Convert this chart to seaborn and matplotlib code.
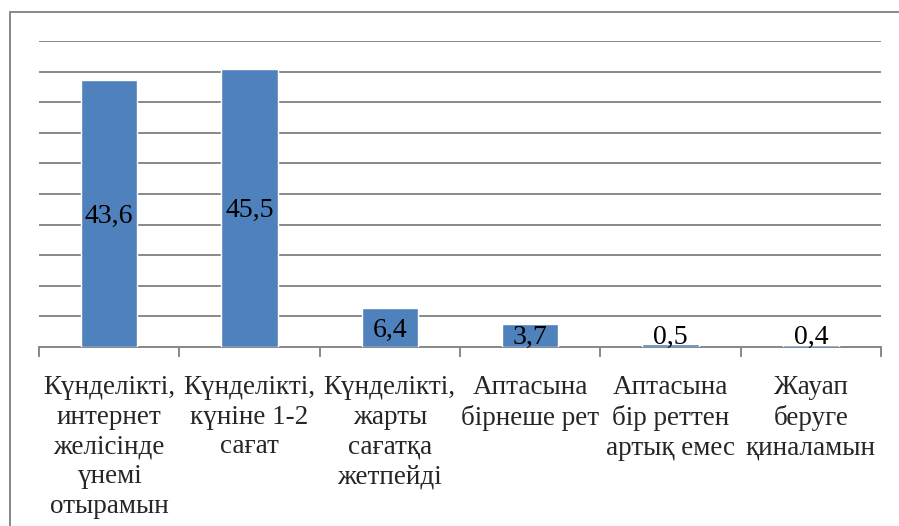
import matplotlib
matplotlib.use("Agg")
import matplotlib.pyplot as plt
import seaborn as sns
import pandas as pd
from matplotlib.patches import Rectangle

categories = [
    "Күнделікті,\nинтернет\nжелісінде\nүнемі\nотырамын",
    "Күнделікті,\nкүніне 1-2\nсағат",
    "Күнделікті,\nжарты\nсағатқа\nжетпейді",
    "Аптасына\nбірнеше рет",
    "Аптасына\nбір реттен\nартық емес",
    "Жауап\nберуге\nқиналамын",
]
values = [43.6, 45.5, 6.4, 3.7, 0.5, 0.4]
value_labels = ["43,6", "45,5", "6,4", "3,7", "0,5", "0,4"]

sns.set_style("white")
plt.rcParams["font.family"] = ["Liberation Serif", "DejaVu Serif"]

df = pd.DataFrame({"cat": categories, "val": values})

fig = plt.figure(figsize=(8.99, 5.26), dpi=100)
ax = fig.add_axes([39 / 899, 1 - 347 / 526, (881 - 39) / 899, (347 - 41) / 526])

sns.barplot(data=df, x="cat", y="val", color="#4F81BD", saturation=1,
            width=0.4, ax=ax, zorder=3)

ax.set_ylim(0, 50)
ax.set_xlim(-0.5, len(categories) - 0.5)
ax.set_yticks(range(0, 55, 5))
ax.set_yticklabels([])
ax.tick_params(axis="y", length=0)
ax.yaxis.grid(True, color="#888888", linewidth=1.4, zorder=0)
ax.set_axisbelow(True)
ax.xaxis.grid(False)
for s in ["top", "right", "left"]:
    ax.spines[s].set_visible(False)
ax.spines["bottom"].set_color("#888888")
ax.spines["bottom"].set_linewidth(1.4)
ax.spines["bottom"].set_zorder(2)

ax.set_xticks(range(len(categories)))
ax.set_xticklabels(categories, fontsize=19.5, linespacing=1.25)
ax.set_xticks([i - 0.5 for i in range(len(categories) + 1)], minor=True)
ax.tick_params(axis="x", which="major", bottom=True, length=0, pad=20)
ax.tick_params(axis="x", which="minor", bottom=True, length=7, color="#888888",
               width=1.4, direction="out")
ax.set_xlabel("")
ax.set_ylabel("")

for i, (v, lab) in enumerate(zip(values, value_labels)):
    y = max(v / 2 - 1.55, 0.5)
    ax.text(i, y, lab, ha="center", va="baseline", fontsize=20, color="black", zorder=5)

fig.patches.append(Rectangle((10 / 899, -0.1), 1.2, 1 - 12 / 526 + 0.1,
                             transform=fig.transFigure, fill=False,
                             edgecolor="#888888", linewidth=1.4))

fig.savefig("out.png", dpi=100)
